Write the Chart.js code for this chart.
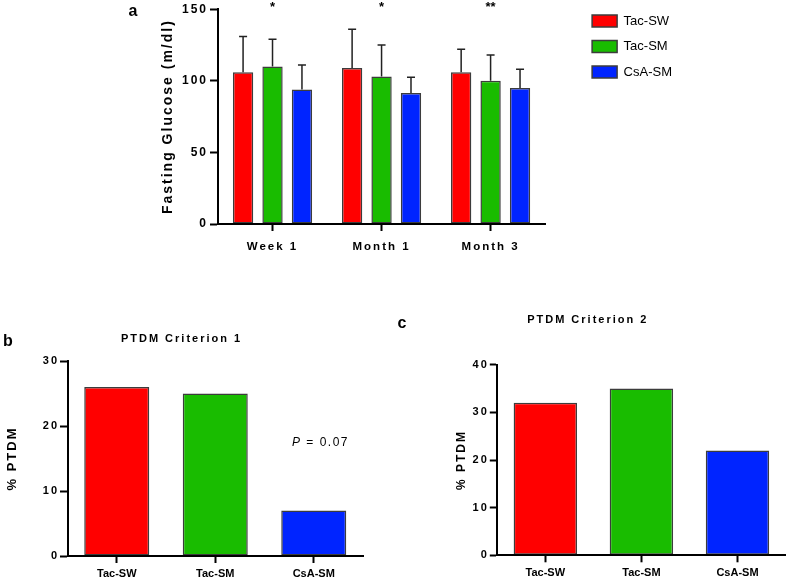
<!DOCTYPE html>
<html>
<head>
<meta charset="utf-8">
<script src="https://cdn.jsdelivr.net/npm/chart.js@4.4.0/dist/chart.umd.min.js"></script>
<style>
  body { margin: 0; background: #fff; }
  #wrap { position: relative; width: 787px; height: 582px; overflow: hidden; }
  canvas { position: absolute; }
</style>
</head>
<body>
<div id="wrap">
  <canvas id="chartA" width="787" height="265" style="left:0;top:0"></canvas>
  <canvas id="chartB" width="390" height="282" style="left:0;top:300px"></canvas>
  <canvas id="chartC" width="397" height="282" style="left:390px;top:300px"></canvas>
</div>
<script>
const FONT = '"Liberation Sans", Arial, Helvetica, sans-serif';

// panel a - fasting glucose, mean and SD per group
const timepoints = ['Week 1', 'Month 1', 'Month 3'];
const tacSW = [106, 109, 106];
const tacSWsd = [25, 27, 16];
const tacSM = [110, 103, 100];
const tacSMsd = [19, 22, 18];
const csaSM = [94, 91.5, 95];
const csaSMsd = [17, 11, 13];
const stars = ['*', '*', '**'];

// panels b and c - % PTDM
const groups = ['Tac-SW', 'Tac-SM', 'CsA-SM'];
const criterion1 = [26, 25, 7];
const criterion2 = [32, 35, 22];

const RED = '#ff0000', GREEN = '#19bc00', BLUE = '#0024ff';
const EDGE = '#3c3c3c';

Chart.defaults.font.family = FONT;
Chart.defaults.color = '#000';
Chart.defaults.animation = false;
Chart.defaults.responsive = false;
Chart.defaults.devicePixelRatio = 1;
Chart.defaults.plugins.tooltip.enabled = false;

// graphpad style letter spacing: one value before the bars, another after
const spacing = (first, second) => ({
    id: 'spacing',
    beforeUpdate(chart) { chart.ctx.letterSpacing = '0px'; },
    beforeDraw(chart) { chart.ctx.letterSpacing = first; },
    afterDatasetsDraw(chart) { chart.ctx.letterSpacing = second; }
});

const errorBars = {
    id: 'errorBars',
    afterDatasetsDraw(chart) {
        const ctx = chart.ctx;
        const y = chart.scales.y;
        ctx.save();
        ctx.strokeStyle = '#222';
        ctx.lineWidth = 1.5;
        chart.data.datasets.forEach((ds, i) => {
            chart.getDatasetMeta(i).data.forEach((bar, j) => {
                const top = y.getPixelForValue(ds.data[j] + ds.sd[j]);
                ctx.beginPath();
                ctx.moveTo(bar.x, bar.y);
                ctx.lineTo(bar.x, top);
                ctx.moveTo(bar.x - 4, top);
                ctx.lineTo(bar.x + 4, top);
                ctx.stroke();
            });
        });
        ctx.restore();
    }
};

const panelLetter = (chart, letter, x, y) => {
    const ctx = chart.ctx;
    ctx.save();
    ctx.letterSpacing = '0px';
    ctx.fillStyle = '#000';
    ctx.font = 'bold 16px ' + FONT;
    ctx.textAlign = 'center';
    ctx.textBaseline = 'middle';
    ctx.fillText(letter, x, y);
    ctx.restore();
};

const notesA = {
    id: 'notesA',
    afterDraw(chart) {
        const ctx = chart.ctx;
        const x = chart.scales.x;
        ctx.save();
        ctx.letterSpacing = '0px';
        ctx.fillStyle = '#000';
        ctx.font = 'bold 13px ' + FONT;
        ctx.textAlign = 'center';
        ctx.textBaseline = 'top';
        stars.forEach((s, i) => ctx.fillText(s, x.getPixelForValue(i), 1));
        ctx.restore();
        panelLetter(chart, 'a', 133, 12);
    }
};

const notesB = {
    id: 'notesB',
    afterDraw(chart) {
        const ctx = chart.ctx;
        ctx.save();
        ctx.fillStyle = '#000';
        ctx.textBaseline = 'middle';
        ctx.letterSpacing = '1.5px';
        ctx.font = 'italic 12px ' + FONT;
        ctx.fillText('P', 292, 143);
        const w = ctx.measureText('P').width;
        ctx.font = '12px ' + FONT;
        ctx.fillText(' = 0.07', 292 + w, 143);
        ctx.restore();
        panelLetter(chart, 'b', 8, 42);
    }
};

const notesC = {
    id: 'notesC',
    afterDraw(chart) {
        panelLetter(chart, 'c', 12, 24);
    }
};

const barStyle = {
    borderColor: EDGE,
    borderWidth: 1.5,
    borderSkipped: false
};

const tickGrid = (len) => ({
    offset: false,
    drawOnChartArea: false,
    tickLength: len,
    tickWidth: 2,
    tickColor: '#000'
});

new Chart(document.getElementById('chartA'), {
    type: 'bar',
    data: {
        labels: timepoints,
        datasets: [
            { label: 'Tac-SW', data: tacSW, sd: tacSWsd, backgroundColor: RED },
            { label: 'Tac-SM', data: tacSM, sd: tacSMsd, backgroundColor: GREEN },
            { label: 'CsA-SM', data: csaSM, sd: csaSMsd, backgroundColor: BLUE }
        ]
    },
    options: {
        datasets: { bar: { ...barStyle, categoryPercentage: 0.81, barPercentage: 0.69 } },
        layout: { padding: { top: 2, right: 105, bottom: 0, left: 0 } },
        plugins: {
            legend: {
                position: 'right',
                align: 'start',
                labels: { boxWidth: 25, boxHeight: 12, padding: 12.5, font: { size: 13 } }
            }
        },
        scales: {
            x: {
                grid: { ...tickGrid(7), z: 1 },
                border: { color: '#000', width: 2, z: 1 },
                ticks: { padding: 9, font: { size: 11.5, weight: 'bold' }, z: 1 },
                afterFit: s => { s.height = 41; }
            },
            y: {
                min: 0,
                max: 150,
                ticks: { stepSize: 50, padding: 2, font: { size: 12, weight: 'bold' }, z: 1 },
                grid: { ...tickGrid(8), z: 1 },
                border: { color: '#000', width: 2, z: 1 },
                title: {
                    display: true,
                    text: 'Fasting Glucose (m/dl)',
                    font: { size: 14, weight: 'bold' },
                    padding: { top: 160 }
                },
                afterFit: s => { s.width = 218; }
            },
            gap: {
                type: 'linear',
                position: 'right',
                grid: { display: false },
                border: { display: false },
                ticks: { display: false },
                afterFit: s => { s.width = 34.5; }
            }
        }
    },
    plugins: [spacing('0px', '2px'), errorBars, notesA]
});

const ptdmChart = (id, values, title, max, o) => new Chart(document.getElementById(id), {
    type: 'bar',
    data: {
        labels: groups,
        datasets: [{ data: values, backgroundColor: [RED, GREEN, BLUE] }]
    },
    options: {
        datasets: { bar: { ...barStyle, categoryPercentage: 1, barPercentage: 0.66 } },
        layout: { padding: { right: o.padRight } },
        plugins: {
            legend: { display: false },
            title: {
                display: true,
                text: title,
                font: { size: 11, weight: 'bold' },
                color: '#000',
                padding: { top: o.titleTop, bottom: o.titleBottom }
            }
        },
        scales: {
            x: {
                grid: tickGrid(7),
                border: { color: '#000', width: 2, z: 1 },
                ticks: { padding: 4.4, font: { size: 11, weight: 'bold' }, z: 1 },
                afterFit: s => { s.height = o.xHeight; }
            },
            y: {
                min: 0,
                max: max,
                ticks: { stepSize: 10, padding: 1, font: { size: 11, weight: 'bold' } },
                grid: tickGrid(7.5),
                border: { color: '#000', width: 2 },
                title: {
                    display: true,
                    text: '% PTDM',
                    font: { size: o.yTitleSize, weight: 'bold' },
                    padding: { top: o.yTitlePad }
                },
                afterFit: s => { s.width = o.yWidth; }
            }
        }
    },
    plugins: [spacing('2px', '0px'), o.notes]
});

ptdmChart('chartB', criterion1, 'PTDM Criterion 1', 30, {
    padRight: 27, titleTop: 32.4, titleBottom: 15.4, xHeight: 26,
    yWidth: 67.5, yTitleSize: 13, yTitlePad: 4.7, notes: notesB
});

ptdmChart('chartC', criterion2, 'PTDM Criterion 2', 40, {
    padRight: 1.5, titleTop: 13.4, titleBottom: 38.1, xHeight: 26.7,
    yWidth: 107.3, yTitleSize: 12, yTitlePad: 64.5, notes: notesC
});
</script>
</body>
</html>
